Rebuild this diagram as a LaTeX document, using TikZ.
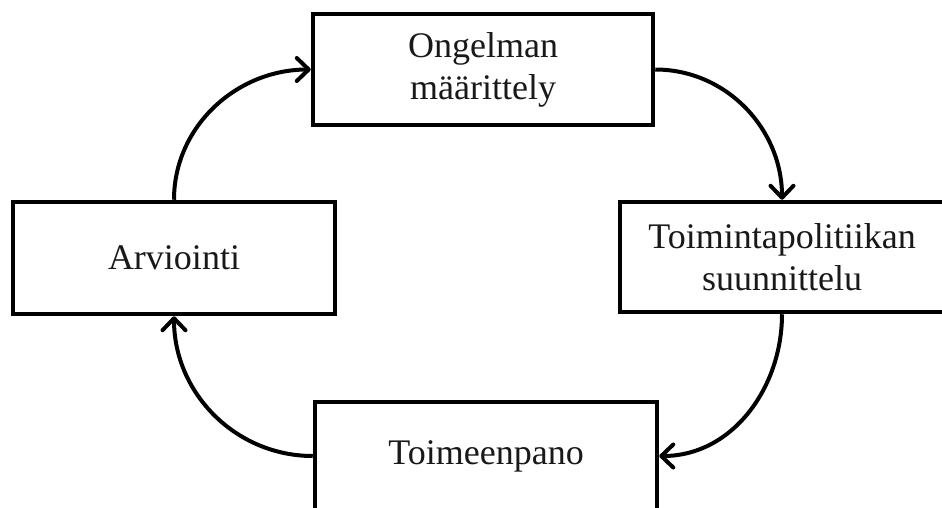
\documentclass[tikz,border=0pt]{standalone}
\usepackage{fontspec}
\setmainfont{Liberation Serif}
\usetikzlibrary{arrows.meta}
\begin{document}
\begin{tikzpicture}[x=1pt,y=-1pt,
  box/.style={draw=black, line width=4.5pt, fill=white, align=center, inner sep=0pt,
    font=\fontsize{36}{42}\selectfont, text=black!90},
  flow/.style={line width=4pt, -{Straight Barb[length=12pt,width=23pt,line cap=round,line join=round]}}]
\useasboundingbox (0,0) rectangle (942,508);
\clip (0,0) rectangle (942,508);
\fill[white] (0,0) rectangle (942,508);
\node[box, minimum width=340pt, minimum height=111pt] (T) at (483,69.5) {Ongelman\\määrittely};
\node[box, minimum width=324pt, minimum height=110pt] (R) at (782,257) {Toimintapolitiikan\\suunnittelu};
\node[box, minimum width=342pt, minimum height=108pt] (B) at (486,456) {Toimeenpano};
\node[box, minimum width=322pt, minimum height=112pt] (L) at (174,258) {Arviointi};
\draw[flow] (L.north) to[out=90,in=180] (T.west);
\draw[flow] (T.east) to[out=0,in=90] (R.north);
\draw[flow] (R.south) to[out=-90,in=0] (B.east);
\draw[flow] (B.west) to[out=180,in=-90] (L.south);
\end{tikzpicture}
\end{document}
